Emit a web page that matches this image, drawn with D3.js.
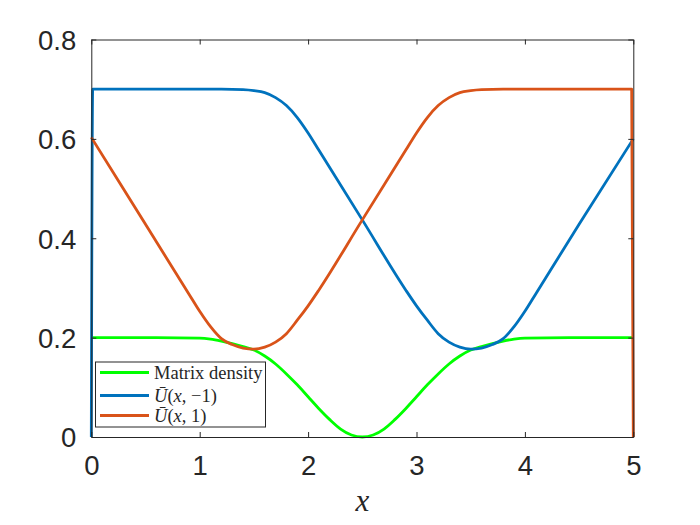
<!DOCTYPE html>
<html>
<head>
<meta charset="utf-8">
<script src="https://cdn.jsdelivr.net/npm/d3@7"></script>
<style>
  html, body { margin: 0; padding: 0; background: #fff; }
  svg { display: block; }
</style>
</head>
<body>
<div id="chart"></div>
<script>
// ---- data ----
const xTicks = [0, 1, 2, 3, 4, 5];
const yTicks = [0, 0.2, 0.4, 0.6, 0.8];
const xTickLabels = ["0", "1", "2", "3", "4", "5"];
const yTickLabels = ["0", "0.2", "0.4", "0.6", "0.8"];

const densityX = [0, 0.5, 1.0, 1.1, 1.2, 1.3, 1.4, 1.5, 1.6, 1.7, 1.8, 1.9, 2.0, 2.1, 2.2, 2.3, 2.4, 2.5,
                  2.6, 2.7, 2.8, 2.9, 3.0, 3.1, 3.2, 3.3, 3.4, 3.5, 3.6, 3.7, 3.8, 3.9, 4.0, 4.5, 5.0];
const densityY = [0.200, 0.200, 0.199, 0.197, 0.193, 0.188, 0.182, 0.175, 0.163, 0.147, 0.127, 0.105, 0.081, 0.057, 0.035, 0.016, 0.004, 0.000,
                  0.004, 0.016, 0.035, 0.057, 0.081, 0.105, 0.127, 0.147, 0.163, 0.175, 0.182, 0.188, 0.193, 0.197, 0.199, 0.200, 0.200];

const uMinusX = [0, 0.013, 0.5, 1.0, 1.2, 1.4, 1.5, 1.6, 1.7, 1.8, 1.9, 2.0, 2.1, 2.5, 2.9, 3.0, 3.1, 3.2, 3.3, 3.4,
                 3.5, 3.6, 3.7, 3.8, 3.9, 4.0, 4.1, 4.5, 5.0];
const uMinusY = [0.000, 0.700, 0.700, 0.700, 0.700, 0.699, 0.697, 0.693, 0.683, 0.667, 0.643, 0.612, 0.577, 0.437, 0.296, 0.264, 0.235, 0.208, 0.191, 0.181,
                 0.177, 0.179, 0.186, 0.198, 0.222, 0.253, 0.288, 0.428, 0.600];

const uPlusX = [0, 0.5, 0.9, 1.0, 1.1, 1.2, 1.3, 1.4, 1.5, 1.6, 1.7, 1.8, 1.9, 2.0, 2.1, 2.5, 2.9, 3.0, 3.1, 3.2,
                3.3, 3.4, 3.5, 3.6, 3.8, 4.0, 4.5, 4.985, 5.0];
const uPlusY = [0.603, 0.428, 0.288, 0.253, 0.222, 0.198, 0.186, 0.179, 0.177, 0.181, 0.191, 0.208, 0.235, 0.264, 0.296, 0.437, 0.577, 0.612, 0.643, 0.667,
                0.683, 0.693, 0.697, 0.699, 0.700, 0.700, 0.700, 0.700, 0.000];

const seriesNames = ["Matrix density", "U(x,-1)", "U(x,1)"];
const seriesColors = ["#00FF00", "#0072BD", "#D95319"];

(function draw() {
  // ---- layout ----
  const W = 700, H = 525;
  const mLeft = 91.3, mRight = 633.3, mTop = 39.5, mBottom = 437;
  const axisColor = "#262626";

  const svg = d3.select("#chart").append("svg").attr("width", W).attr("height", H);

  const x = d3.scaleLinear().domain([0, 5]).range([mLeft, mRight]);
  const y = d3.scaleLinear().domain([0, 0.8]).range([mBottom, mTop]);

  const series = [
    { name: seriesNames[0], color: seriesColors[0], pts: densityX.map((d, i) => [d, densityY[i]]) },
    { name: seriesNames[1], color: seriesColors[1], pts: uMinusX.map((d, i) => [d, uMinusY[i]]) },
    { name: seriesNames[2], color: seriesColors[2], pts: uPlusX.map((d, i) => [d, uPlusY[i]]) }
  ];

  const line = d3.line().x(d => x(d[0])).y(d => y(d[1])).curve(d3.curveMonotoneX);

  svg.append("g").selectAll("path").data(series).join("path")
    .attr("d", d => line(d.pts))
    .attr("fill", "none")
    .attr("stroke", d => d.color)
    .attr("stroke-width", 2.8)
    .attr("stroke-linejoin", "round");

  // ---- axes (MATLAB style box, ticks inward) ----
  const tickLen = 5;
  const fontTick = "'Liberation Sans', Arial, Helvetica, sans-serif";

  const xAxisB = d3.axisBottom(x).tickValues(xTicks).tickFormat((d, i) => xTickLabels[i]).tickSizeInner(-tickLen).tickSizeOuter(0).tickPadding(22);
  const xAxisT = d3.axisTop(x).tickValues(xTicks).tickFormat("").tickSizeInner(-tickLen).tickSizeOuter(0);
  const yAxisL = d3.axisLeft(y).tickValues(yTicks).tickFormat((d, i) => yTickLabels[i]).tickSizeInner(-tickLen).tickSizeOuter(0).tickPadding(15);
  const yAxisR = d3.axisRight(y).tickValues(yTicks).tickFormat("").tickSizeInner(-tickLen).tickSizeOuter(0);

  function styleAxis(g) {
    g.select(".domain").attr("stroke", axisColor).attr("stroke-width", 1);
    g.selectAll(".tick line").attr("stroke", axisColor).attr("stroke-width", 1);
    g.selectAll(".tick text").attr("fill", axisColor).style("font-family", fontTick).style("font-size", "27.5px");
  }

  const gxB = svg.append("g").attr("transform", `translate(0,${mBottom})`).call(xAxisB).call(styleAxis);
  svg.append("g").attr("transform", `translate(0,${mTop})`).call(xAxisT).call(styleAxis);
  const gyL = svg.append("g").attr("transform", `translate(${mLeft},0)`).call(yAxisL).call(styleAxis);
  svg.append("g").attr("transform", `translate(${mRight},0)`).call(yAxisR).call(styleAxis);

  gxB.selectAll(".tick text").attr("y", 38).attr("dy", 0);
  gyL.selectAll(".tick text").attr("dy", "0.36em");

  // ---- x label ----
  svg.append("text")
    .attr("x", (mLeft + mRight) / 2)
    .attr("y", 511)
    .attr("text-anchor", "middle")
    .style("font-family", "'Liberation Serif', 'Times New Roman', serif")
    .style("font-style", "italic")
    .style("font-size", "31px")
    .attr("fill", axisColor)
    .text("x");

  // ---- legend ----
  const legX = 95.5, legY = 362, legW = 170, legH = 65;
  const leg = svg.append("g");
  leg.append("rect").attr("x", legX).attr("y", legY).attr("width", legW).attr("height", legH)
    .attr("fill", "#fff").attr("stroke", axisColor).attr("stroke-width", 1);

  const rowY = [372.5, 395.5, 415.5];
  const legFont = "'Liberation Serif', 'Times New Roman', serif";
  series.forEach((s, i) => {
    leg.append("line").attr("x1", 100).attr("x2", 149).attr("y1", rowY[i]).attr("y2", rowY[i])
      .attr("stroke", s.color).attr("stroke-width", 2.8);
    const t = leg.append("text").attr("x", 154).attr("y", rowY[i]).attr("dy", "0.33em")
      .style("font-family", legFont).style("font-size", "18.5px").attr("fill", axisColor);
    if (i === 0) {
      t.text(s.name);
    } else {
      t.append("tspan").style("font-style", "italic").text("\u016A");
      t.append("tspan").text("(");
      t.append("tspan").style("font-style", "italic").text("x");
      t.append("tspan").text(i === 1 ? ", \u22121)" : ", 1)");
    }
  });
})();
</script>
</body>
</html>
